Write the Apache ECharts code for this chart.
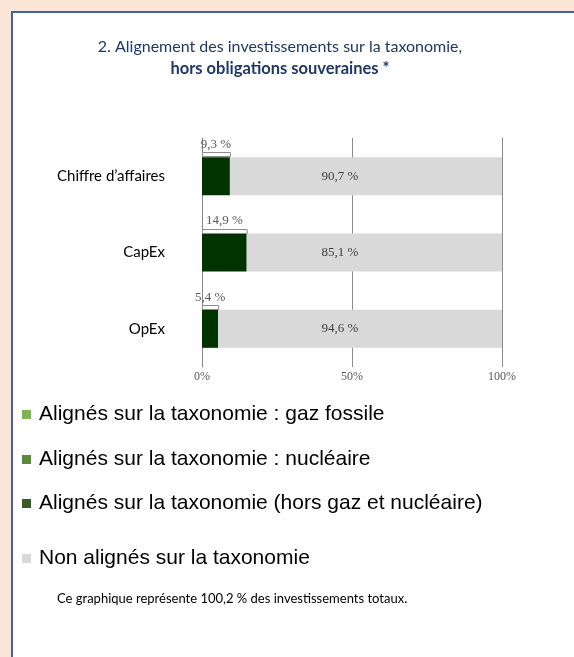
<!DOCTYPE html>
<html>
<head>
    <meta charset="utf-8">
    <title>Alignement taxonomie</title>
    <script src="https://cdn.jsdelivr.net/npm/echarts@6/dist/echarts.min.js"></script>
    <style>
        html, body {
            margin: 0;
            padding: 0;
            background: #fbe5d6;
            overflow: hidden;
        }

        .cadre {
            position: absolute;
            left: 11px;
            top: 11px;
            width: 600px;
            height: 700px;
            border: 2px solid #41629f;
            background: #ffffff;
        }

        #chart {
            position: absolute;
            left: 0;
            top: 0;
            width: 574px;
            height: 657px;
        }
    </style>
</head>
<body>
<div class="cadre"></div>
<div id="chart"></div>
<script>
    // données
    var categories = ['Chiffre d’affaires', 'CapEx', 'OpEx'];
    var gazFossile = [0, 0, 0];
    var nucleaire = [0, 0, 0];
    var alignesHorsGazNucleaire = [9.3, 14.9, 5.4];
    var nonAlignes = [90.7, 85.1, 94.6];

    var legendNames = [
        'Alignés sur la taxonomie : gaz fossile',
        'Alignés sur la taxonomie : nucléaire',
        'Alignés sur la taxonomie (hors gaz et nucléaire)',
        'Non alignés sur la taxonomie'
    ];

    var BAR_W = 38;
    var GREY_LABEL_AT = 46; // position (en %) des étiquettes grises

    function pct(v) {
        return String(v).replace('.', ',') + ' %';
    }

    var chart = echarts.init(document.getElementById('chart'));

    var legendColors = ['#7ab648', '#5b8a3a', '#3a5a28', '#d9d9d9'];
    var legendTops = [399, 444, 488, 543];

    var option = {
        backgroundColor: 'transparent',
        animation: false,
        title: [{
            text: '{a|2. Alignement des investissements sur la taxonomie,}\n{b|hors obligations souveraines *}',
            left: 275,
            top: 31,
            textAlign: 'center',
            textStyle: {
                rich: {
                    a: {fontFamily: 'Lato', fontSize: 16, fontWeight: 'normal', color: '#1f3864', lineHeight: 22, align: 'center'},
                    b: {fontFamily: 'Lato', fontSize: 16.5, fontWeight: 'bold', color: '#1f3864', lineHeight: 22, align: 'center'}
                }
            }
        }, {
            text: 'Ce graphique représente 100,2 % des investissements totaux.',
            left: 52,
            top: 587,
            textStyle: {fontFamily: 'Lato', fontSize: 13, fontWeight: 'normal', color: '#000'}
        }],
        legend: legendNames.map(function (name, k) {
            return {
                data: [{name: name, itemStyle: {color: legendColors[k]}}],
                left: 17,
                top: legendTops[k],
                icon: 'rect',
                itemWidth: 9,
                itemHeight: 9,
                selectedMode: false,
                textStyle: {fontFamily: 'Liberation Sans', fontSize: 21, color: '#000', padding: [0, 0, 0, 3]}
            };
        }),
        grid: {left: 202, right: 72, top: 138, bottom: 290},
        xAxis: {
            type: 'value',
            min: 0,
            max: 100,
            interval: 50,
            axisLine: {show: false},
            axisTick: {show: false},
            splitLine: {lineStyle: {color: '#8c8c8c', width: 1}},
            axisLabel: {
                formatter: '{value}%',
                fontFamily: 'Liberation Serif',
                fontSize: 12,
                color: '#595959',
                margin: 4
            }
        },
        yAxis: {
            type: 'category',
            data: categories,
            inverse: true,
            axisLine: {show: true, lineStyle: {color: '#868686'}},
            axisTick: {show: false},
            axisLabel: {fontFamily: 'Lato', fontSize: 15, color: '#000', margin: 37}
        },
        series: [
            {
                name: legendNames[0], type: 'bar', stack: 'tot', barWidth: BAR_W,
                itemStyle: {color: legendColors[0]}, data: gazFossile
            },
            {
                name: legendNames[1], type: 'bar', stack: 'tot', barWidth: BAR_W,
                itemStyle: {color: legendColors[1]}, data: nucleaire
            },
            {
                name: legendNames[2], type: 'bar', stack: 'tot', barWidth: BAR_W,
                itemStyle: {color: '#013300'}, data: alignesHorsGazNucleaire,
                label: {
                    show: true,
                    position: 'top',
                    distance: 6,
                    formatter: function (p) { return pct(p.value); },
                    fontFamily: 'Liberation Serif',
                    fontSize: 13,
                    color: '#595959'
                }
            },
            {
                name: legendNames[3], type: 'bar', stack: 'tot', barWidth: BAR_W,
                itemStyle: {color: '#d9d9d9'}, data: nonAlignes
            },
            {
                // crochets au-dessus des barres vertes + étiquettes grises
                type: 'custom',
                z: 5,
                encode: {x: 1, y: 0},
                data: categories.map(function (c, i) {
                    return [i, alignesHorsGazNucleaire[i], nonAlignes[i]];
                }),
                renderItem: function (params, api) {
                    var i = params.dataIndex;
                    var a = api.value(1);
                    var r = api.value(2);
                    var c0 = api.coord([0, i]);
                    var c1 = api.coord([a, i]);
                    var g = api.coord([GREY_LABEL_AT, i]);
                    var top = c0[1] - BAR_W / 2;
                    return {
                        type: 'group',
                        children: [{
                            type: 'rect',
                            shape: {x: Math.round(c0[0]) + 0.5, y: Math.round(top) - 4.5, width: c1[0] - c0[0], height: 4},
                            style: {fill: '#fff', stroke: '#8c8c8c', lineWidth: 1}
                        }, {
                            type: 'text',
                            x: g[0],
                            y: c0[1],
                            style: {
                                text: pct(r),
                                fill: '#404040',
                                font: '13px "Liberation Serif"',
                                align: 'center',
                                verticalAlign: 'middle'
                            }
                        }]
                    };
                }
            }
        ]
    };

    chart.setOption(option);

    window.onresize = function () {
        chart.resize();
    };
</script>
</body>
</html>
